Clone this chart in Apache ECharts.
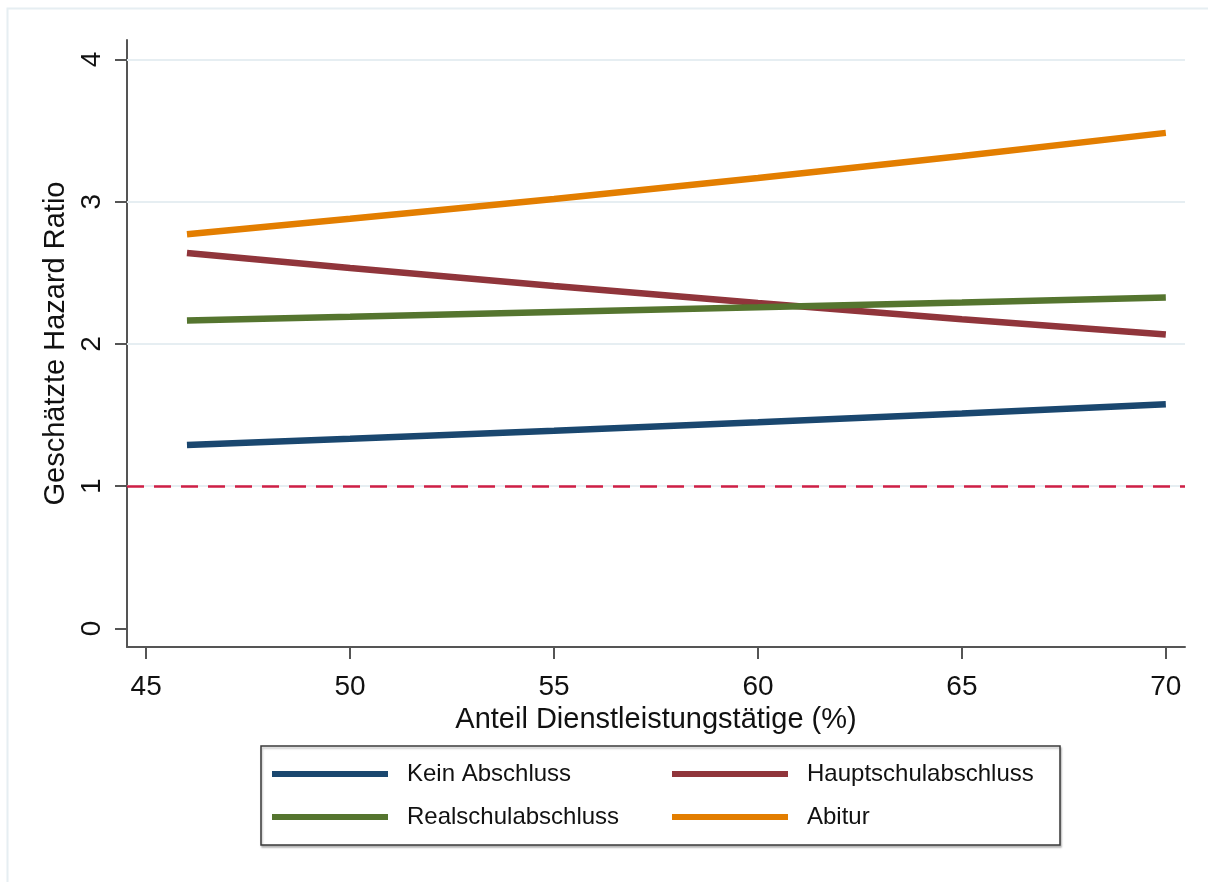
<!DOCTYPE html>
<html>
<head>
<meta charset="utf-8">
<script src="https://cdn.jsdelivr.net/npm/echarts@6/dist/echarts.min.js"></script>
<style>
  html, body { margin: 0; padding: 0; background: #fff; }
  #chart { width: 1208px; height: 882px; }
</style>
</head>
<body>
<div id="chart"></div>
<script>
// values
const xValues = [46, 50, 55, 60, 65, 70];
const keinAbschluss = [1.289, 1.333, 1.390, 1.449, 1.511, 1.575];
const hauptschulabschluss = [2.639, 2.533, 2.407, 2.287, 2.173, 2.065];
const realschulabschluss = [2.164, 2.190, 2.224, 2.257, 2.291, 2.326];
const abitur = [2.771, 2.879, 3.019, 3.166, 3.321, 3.483];

const seriesNames = ['Kein Abschluss', 'Hauptschulabschluss', 'Realschulabschluss', 'Abitur'];
const seriesColors = ['#1a476f', '#90353b', '#55752f', '#e37e00'];
const xTicks = [45, 50, 55, 60, 65, 70];
const yTicks = [0, 1, 2, 3, 4];
const gridValues = [1, 2, 3, 4];
const referenceValue = 1;

const font = 'Liberation Sans, Arial, sans-serif';

function pairs(ys) {
    return xValues.map(function (x, i) { return [x, ys[i]]; });
}

const chart = echarts.init(document.getElementById('chart'));

const lineSeries = [keinAbschluss, hauptschulabschluss, realschulabschluss, abitur].map(function (ys, i) {
    return {
        name: seriesNames[i],
        type: 'line',
        data: pairs(ys),
        showSymbol: false,
        symbol: 'none',
        silent: true,
        z: 5,
        lineStyle: { color: seriesColors[i], width: 6.5 },
        itemStyle: { color: seriesColors[i] }
    };
});

const option = {
    animation: false,
    backgroundColor: '#fff',
    textStyle: { fontFamily: font },
    graphic: [
        {
            type: 'rect',
            shape: { x: 7.5, y: 8.5, width: 1230, height: 900 },
            style: { fill: 'none', stroke: '#e6eef2', lineWidth: 2 },
            silent: true,
            z: -1
        },
        {
            type: 'rect',
            shape: { x: 261, y: 746, width: 799, height: 99 },
            style: {
                fill: '#fff', stroke: '#3a3a3a', lineWidth: 1.5,
                shadowColor: 'rgba(0,0,0,0.25)', shadowOffsetX: 1, shadowOffsetY: 2, shadowBlur: 2
            },
            silent: true,
            z: 0
        }
    ],
    grid: { left: 127, right: 23, top: 40, bottom: 235 },
    xAxis: {
        type: 'value',
        min: 44.53,
        max: 70.47,
        name: 'Anteil Dienstleistungstätige (%)',
        nameLocation: 'middle',
        nameGap: 54,
        nameTextStyle: { fontSize: 29, color: '#111', fontFamily: font },
        axisLine: { show: true, onZero: false, lineStyle: { color: '#555', width: 2 } },
        axisTick: { show: true, length: 12, customValues: xTicks, lineStyle: { color: '#555', width: 2 } },
        axisLabel: { customValues: xTicks, fontSize: 28, color: '#111', margin: 26, fontFamily: font },
        splitLine: { show: false }
    },
    yAxis: {
        type: 'value',
        min: -0.131,
        max: 4.136,
        name: 'Geschätzte Hazard Ratio',
        nameLocation: 'middle',
        nameRotate: 90,
        nameGap: 50,
        nameTextStyle: { fontSize: 29, color: '#111', fontFamily: font },
        axisLine: { show: true, onZero: false, lineStyle: { color: '#555', width: 2 } },
        axisTick: { show: true, length: 12, customValues: yTicks, lineStyle: { color: '#555', width: 2 } },
        axisLabel: { customValues: yTicks, rotate: 90, fontSize: 28, color: '#111', margin: 21, fontFamily: font },
        splitLine: { show: false }
    },
    legend: {
        data: seriesNames,
        left: 272,
        top: 762,
        width: 820,
        orient: 'horizontal',
        icon: 'rect',
        itemWidth: 116,
        itemHeight: 6,
        itemGap: 19,
        padding: 0,
        selectedMode: false,
        textStyle: {
            fontSize: 24, color: '#111', fontFamily: font,
            width: 246, lineHeight: 24, padding: [0, 0, 0, 14]
        },
        z: 3
    },
    series: [
        {
            name: 'grid',
            type: 'line',
            data: [],
            silent: true,
            z: 1,
            markLine: {
                silent: true,
                symbol: 'none',
                label: { show: false },
                animation: false,
                lineStyle: { color: '#e6eef2', width: 2, type: 'solid' },
                data: gridValues.map(function (v) { return { yAxis: v }; })
            }
        },
        {
            name: 'reference',
            type: 'line',
            data: [],
            silent: true,
            z: 2,
            markLine: {
                silent: true,
                symbol: 'none',
                label: { show: false },
                animation: false,
                lineStyle: { color: '#cf1f45', width: 2.5, type: [17, 10] },
                data: [{ yAxis: referenceValue }]
            }
        }
    ].concat(lineSeries)
};

chart.setOption(option);
</script>
</body>
</html>
